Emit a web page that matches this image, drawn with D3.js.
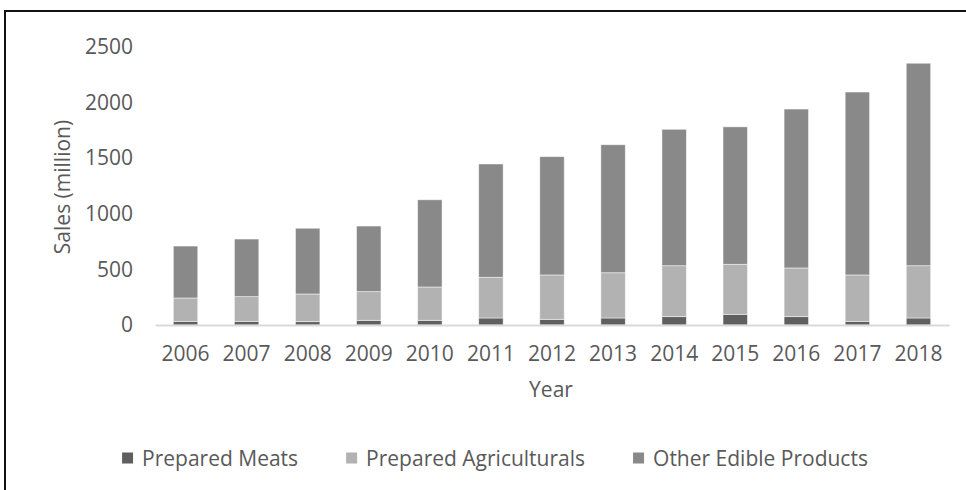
<!DOCTYPE html>
<html>
<head>
<meta charset="utf-8">
<script src="https://cdn.jsdelivr.net/npm/d3@7"></script>
<style>
  html, body { margin: 0; padding: 0; background: #fff; }
  svg { display: block; }
  text { font-family: "Open Sans", sans-serif; fill: #595959; }
</style>
</head>
<body>
<svg id="chart" width="966" height="490"></svg>
<script>
// Annual sales (million) by product group
const years = ["2006","2007","2008","2009","2010","2011","2012","2013","2014","2015","2016","2017","2018"];
const preparedMeats = [33, 33, 30, 42, 42, 63, 51, 63, 75, 96, 75, 33, 63];
const preparedAgriculturals = [210, 222, 249, 258, 300, 366, 399, 407, 458, 450, 438, 417, 470];
const otherEdibleProducts = [467, 518, 591, 590, 784, 1019, 1064, 1151, 1227, 1236, 1429, 1645, 1821];
const seriesNames = ["Prepared Meats", "Prepared Agriculturals", "Other Edible Products"];
const seriesColors = ["#5f5f5f", "#b2b2b2", "#898989"];
const yTicks = [0, 500, 1000, 1500, 2000, 2500];

const svg = d3.select("#chart");
const fontSize = 21;

// Frame around the chart area
svg.append("rect")
  .attr("x", 5).attr("y", 11)
  .attr("width", 980).attr("height", 500)
  .attr("fill", "none")
  .attr("stroke", "#111")
  .attr("stroke-width", 2);

const rows = years.map((y, i) => ({
  year: y,
  "Prepared Meats": preparedMeats[i],
  "Prepared Agriculturals": preparedAgriculturals[i],
  "Other Edible Products": otherEdibleProducts[i]
}));
const stacked = d3.stack().keys(seriesNames)(rows);

const x = d3.scaleBand().domain(years).range([155, 949]).paddingInner(0.6).paddingOuter(0.3);
const y = d3.scaleLinear().domain([0, 2500]).range([325, 47]);
const color = d3.scaleOrdinal().domain(seriesNames).range(seriesColors);

// Stacked bars
svg.append("g").selectAll("g")
  .data(stacked)
  .join("g")
  .attr("fill", d => color(d.key))
  .selectAll("rect")
  .data(d => d)
  .join("rect")
  .attr("x", d => x(d.data.year))
  .attr("width", x.bandwidth())
  .attr("y", d => y(d[1]))
  .attr("height", d => y(d[0]) - y(d[1]))
  .attr("stroke", "#ffffff")
  .attr("stroke-opacity", 0.6)
  .attr("stroke-width", 0.8);

// Category axis
const xAxis = svg.append("g")
  .attr("transform", `translate(0,${y(0)})`)
  .call(d3.axisBottom(x).tickSize(0).tickPadding(21));
xAxis.select(".domain").attr("stroke", "#d9d9d9").attr("stroke-width", 2);
xAxis.selectAll("text")
  .attr("font-size", fontSize)
  .attr("font-family", "Open Sans, sans-serif")
  .attr("fill", "#595959");

// Value axis (labels only)
const yAxis = svg.append("g")
  .attr("transform", "translate(133,0)")
  .call(d3.axisLeft(y).tickValues(yTicks).tickFormat(d3.format("d")).tickSize(0).tickPadding(0));
yAxis.select(".domain").remove();
yAxis.selectAll("text")
  .attr("font-size", fontSize)
  .attr("font-family", "Open Sans, sans-serif")
  .attr("fill", "#595959");

// Axis titles
svg.append("text")
  .attr("transform", "translate(62,187) rotate(-90)")
  .attr("text-anchor", "middle")
  .attr("dominant-baseline", "central")
  .attr("font-size", fontSize)
  .text("Sales (million)");

svg.append("text")
  .attr("x", 551).attr("y", 389)
  .attr("text-anchor", "middle")
  .attr("dominant-baseline", "central")
  .attr("font-size", fontSize)
  .text("Year");

// Legend
const legend = svg.append("g");
const sq = 11, sqGap = 9, itemGap = 48;
let lx = 0;
seriesNames.forEach(name => {
  const g = legend.append("g");
  g.append("rect").attr("x", 0).attr("y", -sq / 2).attr("width", sq).attr("height", sq).attr("fill", color(name));
  const t = g.append("text")
    .attr("x", sq + sqGap).attr("y", 0)
    .attr("dominant-baseline", "central")
    .attr("font-size", fontSize)
    .text(name);
  const w = sq + sqGap + t.node().getComputedTextLength();
  g.attr("transform", `translate(${lx},0)`);
  lx += w + itemGap;
});
const totalW = lx - itemGap;
legend.attr("transform", `translate(${495 - totalW / 2},458)`);
</script>
</body>
</html>
